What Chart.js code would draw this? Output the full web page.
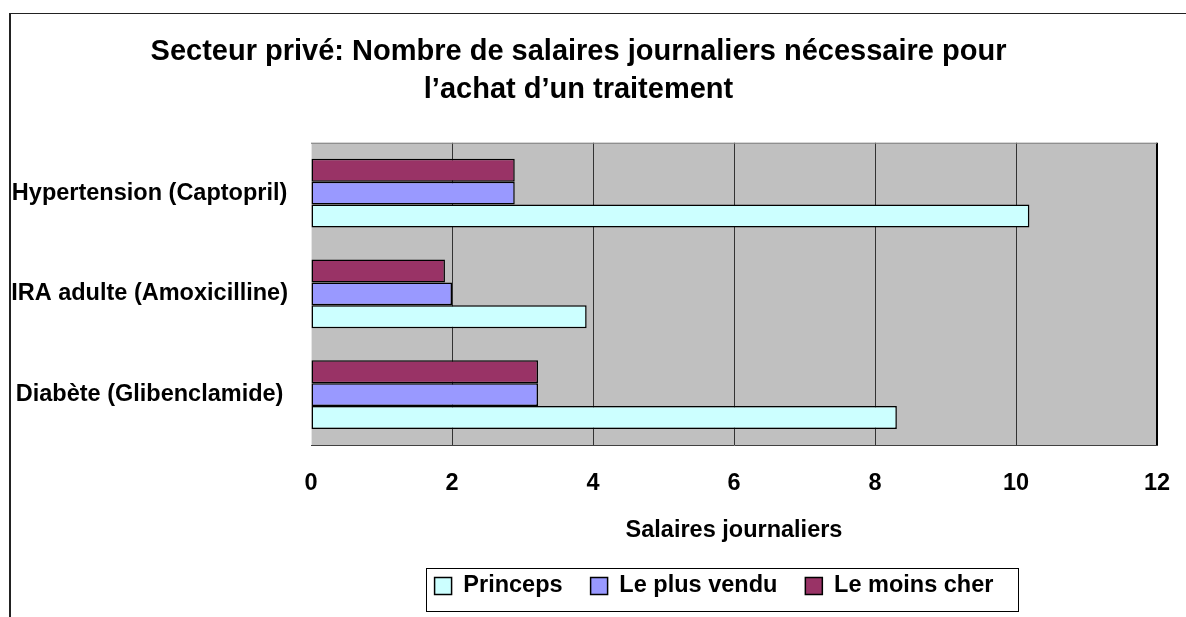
<!DOCTYPE html>
<html>
<head>
<meta charset="utf-8">
<script src="https://cdn.jsdelivr.net/npm/chart.js@4"></script>
<style>
  body { margin: 0; background: #fff; }
  #wrap { position: relative; width: 1186px; height: 617px; overflow: hidden; }
  #cadre { position: absolute; left: 9px; top: 13px; width: 1300px; height: 700px;
           border-left: 2px solid #222; border-top: 1px solid #222; pointer-events: none; }
  canvas { position: absolute; left: 0; top: 0; }
</style>
</head>
<body>
<div id="wrap">
  <canvas id="miCanvas" width="1186" height="617"></canvas>
  <div id="cadre"></div>
</div>
<script>
// donnees
const categories = ["Hypertension (Captopril)", "IRA adulte (Amoxicilline)", "Diabète (Glibenclamide)"];
const princeps = [10.19, 3.91, 8.31];
const plusVendu = [2.89, 2.0, 3.22];
const moinsCher = [2.89, 1.9, 3.22];
const xTicks = [0, 2, 4, 6, 8, 10, 12];

const police = "'Liberation Sans', Arial, sans-serif";
Chart.defaults.color = "#000";
Chart.defaults.font.family = police;

// fond gris de la zone de tracé + cadre autour de la légende
const fondPlugin = {
  id: "fond",
  afterLayout(chart) {
    // la légende d'Excel est un peu décalée à gauche
    chart.legend.left -= 20;
    chart.legend.right -= 20;
  },
  beforeDraw(chart) {
    const a = chart.chartArea;
    const ctx = chart.ctx;
    ctx.save();
    ctx.fillStyle = "#C0C0C0";
    ctx.fillRect(a.left, a.top, a.right - a.left, a.bottom - a.top);
    ctx.restore();
  },
  afterDraw(chart) {
    const a = chart.chartArea;
    const ctx = chart.ctx;
    ctx.save();
    ctx.strokeStyle = "#808080";
    ctx.lineWidth = 1;
    ctx.beginPath();
    ctx.moveTo(a.left, a.top + 0.5);
    ctx.lineTo(a.right, a.top + 0.5);
    ctx.stroke();
    const hb = chart.legend.legendHitBoxes;
    if (hb && hb.length) {
      const last = hb[hb.length - 1];
      const x1 = Math.round(hb[0].left - 9) + 0.5;
      const x2 = Math.round(last.left + last.width + 25) + 0.5;
      const y1 = Math.round(hb[0].top - 6) + 0.5;
      const y2 = Math.round(hb[0].top + 37) + 0.5;
      ctx.strokeStyle = "#000";
      ctx.strokeRect(x1, y1, x2 - x1, y2 - y1);
    }
    ctx.restore();
  }
};

const ctx = document.getElementById("miCanvas");

const myChart = new Chart(ctx, {
  type: "bar",
  data: {
    labels: categories,
    datasets: [
      { label: "Le moins cher", data: moinsCher, backgroundColor: "#993366", borderColor: "#000", borderWidth: 1.5, borderSkipped: false },
      { label: "Le plus vendu", data: plusVendu, backgroundColor: "#9999FF", borderColor: "#000", borderWidth: 1.5, borderSkipped: false },
      { label: "Princeps", data: princeps, backgroundColor: "#CCFFFF", borderColor: "#000", borderWidth: 1.5, borderSkipped: false },
    ],
  },
  options: {
    indexAxis: "y",
    responsive: false,
    animation: false,
    categoryPercentage: 0.681,
    barPercentage: 1.0,
    layout: { padding: { top: 0, left: 0, right: 29, bottom: 9.25 } },
    scales: {
      x: {
        min: 0,
        max: 12,
        afterBuildTicks(scale) {
          scale.ticks = xTicks.map((v) => ({ value: v }));
        },
        afterFit(scale) {
          scale.paddingRight = 0;
        },
        ticks: { font: { size: 23.5, weight: "bold" }, padding: 24 },
        grid: {
          drawTicks: false,
          color: (c) => (c.tick && c.tick.value === 0 ? "#E6E6E6" : c.tick && c.tick.value === 12 ? "#000" : "#333"),
          lineWidth: (c) => (c.tick && c.tick.value === 12 ? 2 : 1),
        },
        border: { display: true, color: "#404040", width: 1 },
        title: {
          display: true,
          text: "Salaires journaliers",
          font: { size: 23.5, weight: "bold" },
          padding: { top: -4.8, bottom: 1.65 },
        },
      },
      y: {
        afterFit(scale) { scale.width = 311; },
        grid: { display: false },
        border: { display: false },
        ticks: { crossAlign: "center", padding: 15, font: { size: 23.5, weight: "bold" } },
      },
    },
    plugins: {
      title: {
        display: true,
        text: ["Secteur privé: Nombre de salaires journaliers nécessaire pour", "l’achat d’un traitement"],
        font: { size: 29, weight: "bold", lineHeight: 1.31 },
        padding: { top: 32.8, bottom: 34 },
        color: "#000",
      },
      legend: {
        position: "bottom",
        fullSize: false,
        reverse: true,
        labels: { boxWidth: 17, boxHeight: 17, padding: 28, font: { size: 23.5, weight: "bold" }, color: "#000" },
      },
      tooltip: { enabled: true },
    },
  },
  plugins: [fondPlugin],
});
</script>
</body>
</html>
